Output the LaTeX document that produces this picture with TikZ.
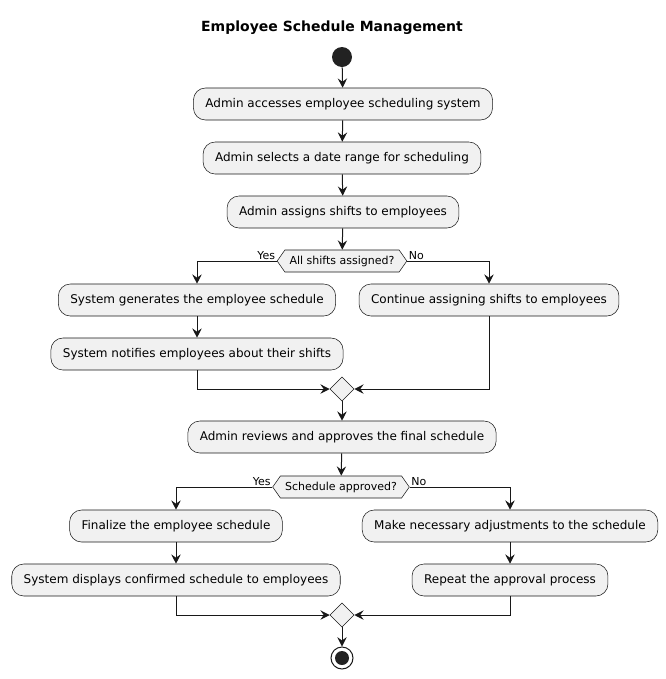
\documentclass[tikz,border=0pt]{standalone}
\usepackage{fontspec}
\setmainfont{DejaVu Sans}
\usepackage{tikz}
\usetikzlibrary{arrows.meta}
\usetikzlibrary{shapes.geometric}
\usetikzlibrary{shapes.symbols}
\definecolor{actfill}{HTML}{F1F1F1}
\definecolor{actline}{HTML}{181818}
\definecolor{dotfill}{HTML}{222222}
\tikzset{
    action/.style={draw=actline, fill=actfill, line width=0.4pt, rounded corners=9pt,
        minimum height=24pt, inner xsep=9pt, font=\fontsize{9}{11}\selectfont},
    test/.style={signal, signal to=west and east, signal pointer angle=110, draw=actline,
        fill=actfill, line width=0.4pt, minimum height=16.5pt, inner xsep=3.5pt, inner ysep=0pt,
        font=\fontsize{8.25}{10}\selectfont},
    merge/.style={diamond, draw=actline, fill=actfill, line width=0.4pt, minimum size=18pt, inner sep=0pt},
    flow/.style={draw=actline, line width=0.75pt, -{Stealth[length=7pt, width=7pt, inset=2.5pt]}},
    branch/.style={font=\fontsize{8.25}{10}\selectfont, inner sep=1pt}}

\begin{document}
\begin{tikzpicture}[x=0.75pt, y=-0.75pt]

            \useasboundingbox (0,0) rectangle (666,679);

            \node[font=\bfseries\fontsize{10.5}{12}\selectfont] (title) at (332,28) {Employee Schedule Management};
            \node[circle, fill=dotfill, minimum size=15pt, inner sep=0pt] (start) at (342,57) {};

            \node[action] (a1) at (343,104) {Admin accesses employee scheduling system};
            \node[action] (a2) at (342,158) {Admin selects a date range for scheduling};
            \node[action] (a3) at (343,212) {Admin assigns shifts to employees};
            \node[test] (q1) at (342,261) {All shifts assigned?};
            \node[action] (a4) at (197,300) {System generates the employee schedule};
            \node[action] (a5) at (197,354) {System notifies employees about their shifts};
            \node[action] (a6) at (489,300) {Continue assigning shifts to employees};
            \node[merge] (m1) at (342,389) {};

            \node[action] (a7) at (342,437) {Admin reviews and approves the final schedule};
            \node[test] (q2) at (341,487) {Schedule approved?};
            \node[action] (a8) at (176,526) {Finalize the employee schedule};
            \node[action] (a9) at (176,580) {System displays confirmed schedule to employees};
            \node[action] (a10) at (510,526) {Make necessary adjustments to the schedule};
            \node[action] (a11) at (510,580) {Repeat the approval process};
            \node[merge] (m2) at (342,615) {};

            \node[circle, draw=actline, line width=0.75pt, minimum size=16.5pt, inner sep=0pt] (stop) at (342,658) {};
            \fill[dotfill] (stop) circle (5.25pt);

            \draw[flow] (start) -- (a1);
            \draw[flow] (a1) -- (a2);
            \draw[flow] (a2) -- (a3);
            \draw[flow] (a3) -- (q1);
            \draw[flow] (q1.west) -| (a4) node[pos=0, above left, branch] {Yes};
            \draw[flow] (q1.east) -| (a6) node[pos=0, above right, branch] {No};
            \draw[flow] (a4) -- (a5);
            \draw[flow] (a5) |- (m1);
            \draw[flow] (a6) |- (m1);
            \draw[flow] (m1) -- (a7);
            \draw[flow] (a7) -- (q2);
            \draw[flow] (q2.west) -| (a8) node[pos=0, above left, branch] {Yes};
            \draw[flow] (q2.east) -| (a10) node[pos=0, above right, branch] {No};
            \draw[flow] (a8) -- (a9);
            \draw[flow] (a10) -- (a11);
            \draw[flow] (a9) |- (m2);
            \draw[flow] (a11) |- (m2);
            \draw[flow] (m2) -- (stop);

        \end{tikzpicture}
\end{document}
